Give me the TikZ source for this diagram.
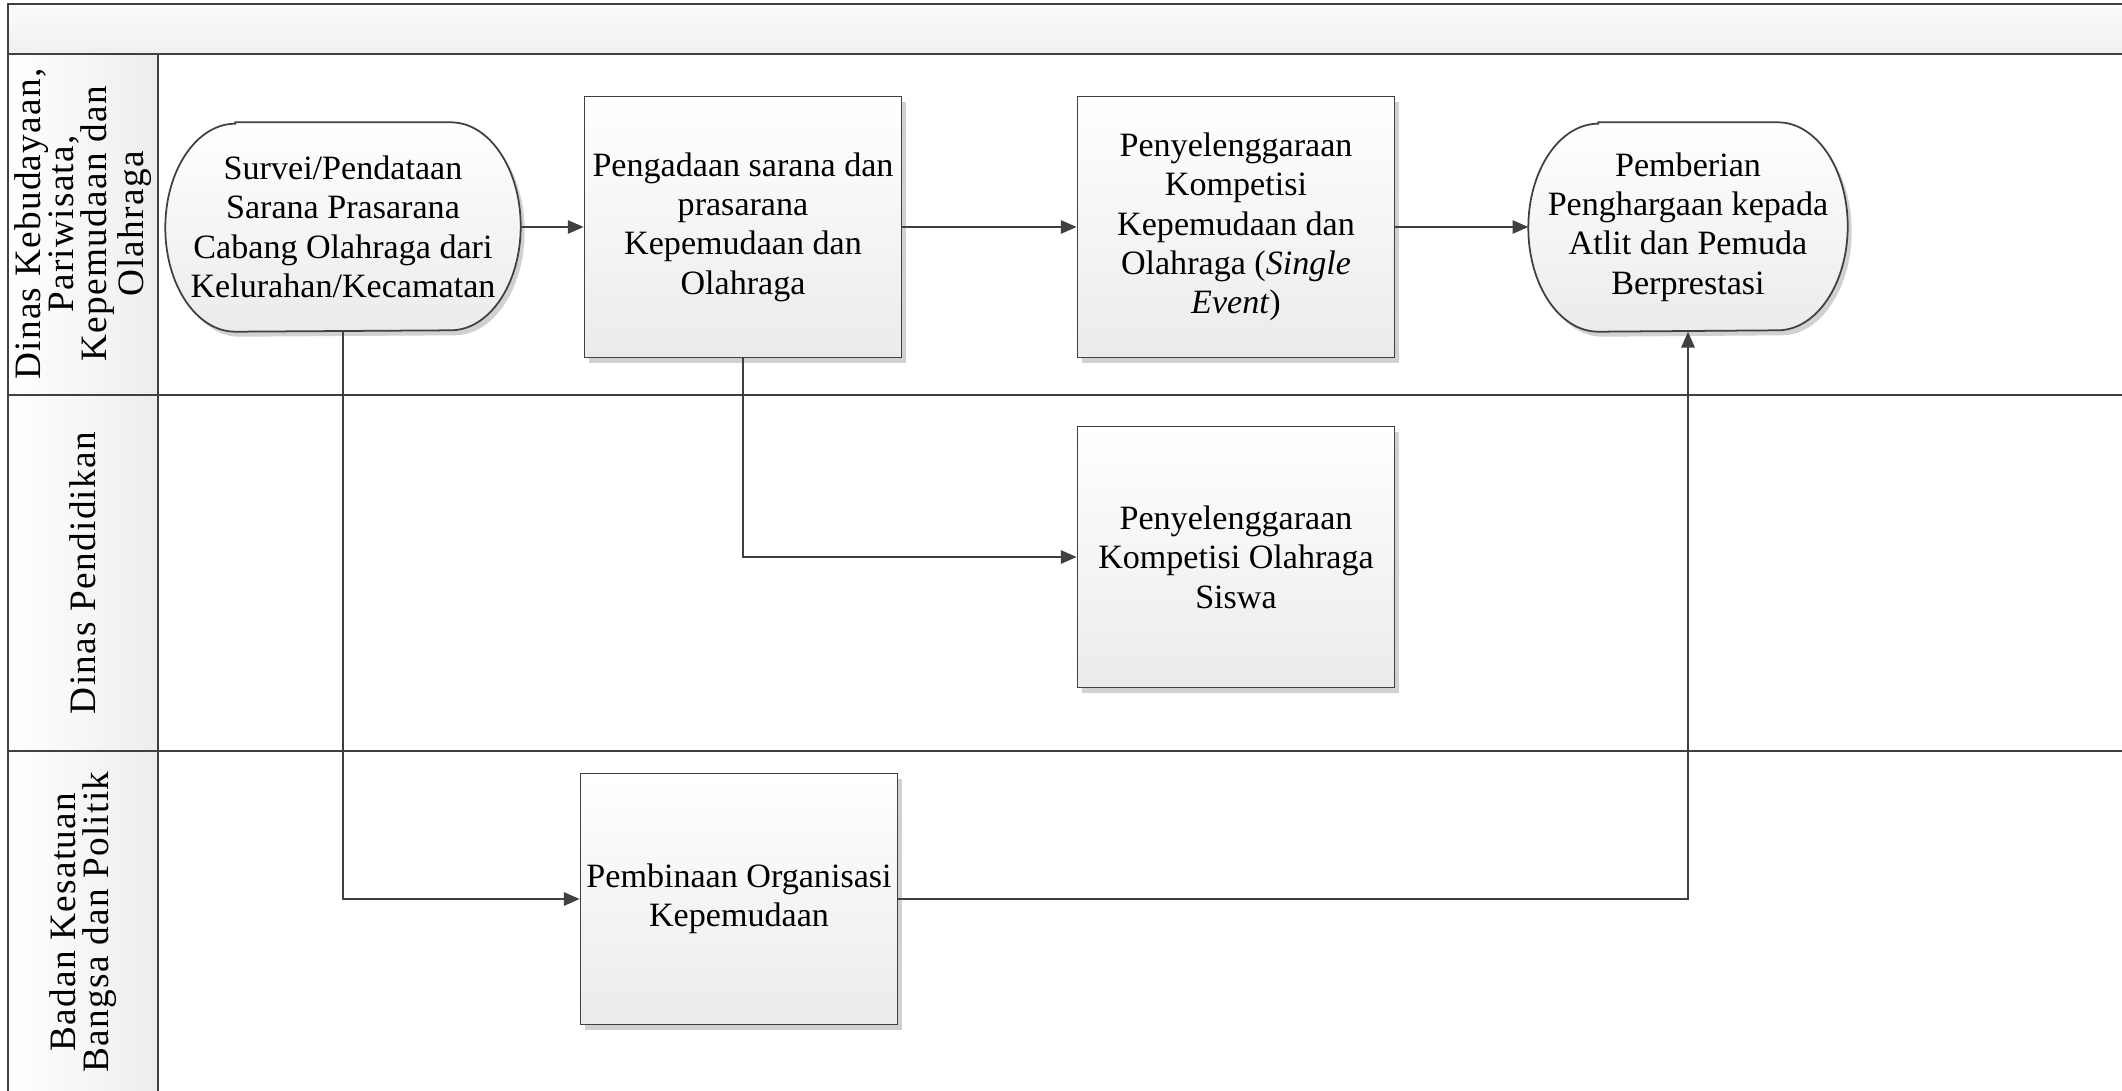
\documentclass[tikz,border=0pt]{standalone}
\usepackage{fontspec}
\setmainfont{Liberation Serif}
\newfontfamily\lanefont[LetterSpace=3.5]{Liberation Serif}
\usepackage{xcolor}
\usepackage{tikz}
\usetikzlibrary{arrows.meta,shadows,backgrounds}

\definecolor{linegray}{HTML}{404040}
\definecolor{boxgray}{HTML}{EBEBEB}

% outline of a start/end node: straight top and bottom, half-ellipse ends
\newcommand{\termoutline}[1]{%
  \draw[termfill] ([xshift=7mm]#1.north west) -- ([xshift=-7mm]#1.north east)
    arc[start angle=90, end angle=-90, x radius=7mm, y radius=10.4mm]
    -- ([xshift=7mm]#1.south west)
    arc[start angle=270, end angle=90, x radius=7mm, y radius=10.4mm] -- cycle;}

\begin{document}
\begin{tikzpicture}[
    laneframe/.style={draw=linegray, line width=0.7pt},
    lanehead/.style={laneframe, left color=white, right color=gray!14},
    lanelabel/.style={rotate=90, align=center, inner sep=0pt, font=\lanefont\fontsize{10.6}{9.4}\selectfont},
    process/.style={rectangle, minimum width=3.17cm, minimum height=2.61cm, text centered, draw=linegray, line width=0.5pt, top color=white, bottom color=boxgray, drop shadow={shadow xshift=0.4mm, shadow yshift=-0.5mm, opacity=0.18, fill=black}, font=\fontsize{9.7}{11.2}\selectfont, align=center, inner sep=1pt},
    terminal/.style={rectangle, minimum width=3.54cm, minimum height=2.08cm, text centered, font=\fontsize{9.7}{11.2}\selectfont, align=center, inner sep=0pt},
    termfill/.style={draw=linegray, line width=0.5pt, top color=white, bottom color=boxgray, drop shadow={shadow xshift=0.4mm, shadow yshift=-0.5mm, opacity=0.18, fill=black}},
    arrow/.style={draw=linegray, line width=0.5pt, -{Triangle[length=4.5pt, width=3.8pt]}},
    line/.style={draw=linegray, line width=0.5pt}
]
    \useasboundingbox (0,0) rectangle (21.22,10.90);
    \clip (0,0) rectangle (21.22,10.90);

    % Pool header and swimlanes
    \draw[laneframe, top color=gray!3, bottom color=gray!12] (0.08,10.36) rectangle (21.4,10.86);
    \draw[laneframe] (1.58,6.95) rectangle (21.4,10.36);
    \draw[laneframe] (1.58,3.39) rectangle (21.4,6.95);
    \draw[laneframe] (1.58,-0.3) rectangle (21.4,3.39);
    \draw[lanehead] (0.08,6.95) rectangle (1.58,10.36);
    \draw[lanehead] (0.08,3.39) rectangle (1.58,6.95);
    \draw[lanehead] (0.08,-0.3) rectangle (1.58,3.39);

    \node[lanelabel] (lane_disbud) at (0.83,8.66) {Dinas Kebudayaan,\\Pariwisata,\\Kepemudaan dan\\Olahraga};
    \node[lanelabel] (lane_disdik) at (0.83,5.17) {Dinas Pendidikan};
    \node[lanelabel] (lane_kesbang) at (0.83,1.68) {Badan Kesatuan\\Bangsa dan Politik};

    % Activities of the first lane
    \node[terminal] (survei) at (3.43,8.63) {Survei/Pendataan\\Sarana Prasarana\\Cabang Olahraga dari\\Kelurahan/Kecamatan};
    \node[process] (pengadaan) at (7.43,8.63) {Pengadaan sarana dan\\prasarana\\Kepemudaan dan\\Olahraga};
    \node[process] (kompetisi) at (12.36,8.63) {Penyelenggaraan\\Kompetisi\\Kepemudaan dan\\Olahraga (\textit{Single}\\\textit{Event})};
    \node[terminal, minimum width=3.18cm] (penghargaan) at (16.88,8.63) {Pemberian\\Penghargaan kepada\\Atlit dan Pemuda\\Berprestasi};

    % Activities of the other lanes
    \node[process] (kompsiswa) at (12.36,5.33) {Penyelenggaraan\\Kompetisi Olahraga\\Siswa};
    \node[process, minimum height=2.51cm] (pembinaan) at (7.39,1.91) {Pembinaan Organisasi\\Kepemudaan};

    \begin{scope}[on background layer]
        \termoutline{survei}
        \termoutline{penghargaan}
    \end{scope}

    % Flow along the first lane
    \draw[arrow] (survei) -- (pengadaan);
    \draw[arrow] (pengadaan) -- (kompetisi);
    \draw[arrow] (kompetisi) -- (penghargaan);

    % Flow across lanes
    \draw[arrow] (pengadaan.south) |- (kompsiswa.west);
    \draw[arrow] (survei.south) |- (pembinaan.west);
    \draw[arrow] (pembinaan.east) -| (penghargaan.south);

\end{tikzpicture}
\end{document}
